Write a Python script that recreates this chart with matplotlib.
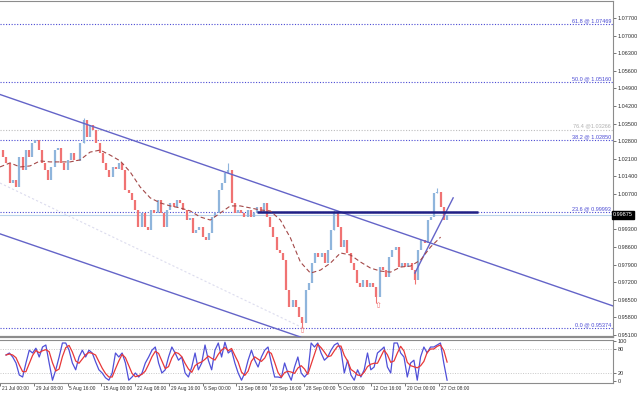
import numpy as np
import pandas as pd
import matplotlib
matplotlib.use('Agg')
import matplotlib.pyplot as plt
import matplotlib.transforms as mtransforms

plt.rcParams['font.family'] = ['Liberation Sans', 'DejaVu Sans']

# H4 closes (one value per bar)
closes = [
    1.0245, 1.0217, 1.0194, 1.0114, 1.0126, 1.0098, 1.0217, 1.0166, 1.0245, 1.0217,
    1.0273, 1.0285, 1.0245, 1.0194, 1.0166, 1.0126, 1.0178, 1.0245, 1.0253, 1.0194,
    1.0166, 1.0206, 1.0233, 1.0206, 1.0200, 1.0273, 1.0365, 1.0297, 1.0345, 1.0325,
    1.0273, 1.0233, 1.0194, 1.0166, 1.0138, 1.0178, 1.0170, 1.0194, 1.0166, 1.0086,
    1.0074, 1.0047, 1.0007, 0.9939, 0.9995, 0.9939, 0.9927, 1.0007, 0.9995, 1.0047,
    0.9995, 0.9939, 1.0007, 1.0035, 1.0019, 1.0047, 1.0035, 1.0007, 0.9967, 0.9975,
    0.9915, 0.9927, 0.9939, 0.9899, 0.9888, 0.9915, 0.9979, 0.9995, 1.0086, 1.0114,
    1.0154, 1.0166, 1.0035, 0.9995, 1.0007, 0.9995, 0.9979, 1.0007, 0.9979, 0.9995,
    1.0019, 0.9995, 1.0035, 0.9979, 0.9939, 0.9899, 0.9848, 0.9836, 0.9808, 0.9689,
    0.9621, 0.9649, 0.9621, 0.9581, 0.9558, 0.9689, 0.9717, 0.9796, 0.9836, 0.9820,
    0.9836, 0.9796, 0.9848, 0.9927, 0.9995, 0.9939, 0.9860, 0.9888, 0.9836, 0.9796,
    0.9768, 0.9717, 0.9701, 0.9729, 0.9701, 0.9717, 0.9701, 0.9661, 0.9780, 0.9768,
    0.9740, 0.9820, 0.9848, 0.9860, 0.9780, 0.9796, 0.9780, 0.9796, 0.9768, 0.9729,
    0.9848, 0.9888, 0.9876, 0.9967, 0.9979, 1.0074, 1.0078, 1.0019, 0.9967, 0.9987,
]
# a few visible wick extremes (bar, price)
wick_bars = [26, 71, 94, 104, 117, 129, 136]
wick_prices = [1.0373, 1.0194, 0.9538, 1.0007, 0.9637, 0.9713, 1.0094]

# dashed moving average, sampled along the chart
ma_vals = [
    1.0178, 1.0194, 1.0178, 1.0182, 1.0202, 1.0198, 1.0198, 1.0198, 1.0206, 1.0237,
    1.0245, 1.0225, 1.0202, 1.0158, 1.0098, 1.0055, 1.0035, 1.0023, 1.0015, 1.0003,
    0.9979, 0.9967, 0.9995, 1.0023, 1.0023, 1.0015, 1.0007, 1.0003, 0.9967, 0.9896,
    0.9800, 0.9756, 0.9768, 0.9796, 0.9836, 0.9828, 0.9800, 0.9776, 0.9764, 0.9760,
    0.9780, 0.9784, 0.9808, 0.9860, 0.9899,
]

# stochastic %K
stoch_k = [
    65, 70, 60, 45, 15, 10, 45, 77, 70, 82,
    60, 85, 90, 45, 2, 28, 60, 95, 95, 77,
    45, 28, 60, 77, 60, 77, 70, 48, 28, 20,
    8, 2, 20, 70, 60, 70, 45, 2, 10, 20,
    10, 20, 45, 60, 77, 85, 45, 20, 28, 60,
    85, 70, 52, 60, 20, 10, 35, 70, 28, 45,
    90, 52, 28, 77, 95, 60, 97, 70, 77, 45,
    20, 2, 20, 52, 77, 52, 35, 60, 77, 85,
    45, 10, 10, 8, 45, 20, 2, 35, 60, 20,
    10, 20, 95, 85, 95, 70,
    52, 60, 77, 90, 95, 77, 20, 52, 15, 2,
    28, 10, 28, 70, 28, 35, 70, 77, 85, 35,
    20, 95, 95, 70, 60, 10, 45, 52, 2, 60,
    85, 70, 85, 85, 90, 95, 45, 2,
]

fib_levels = [1.07469, 1.05160, 1.02850, 0.99993, 0.95374]
fib_names = ['61.8', '50.0', '38.2', '23.6', '0.0']
extra_level = 1.03266
extra_name = '76.4'
bid = 0.99875

# trendlines: (bar, price) anchors
upper_channel = [(0, 1.0466), (139, 0.9853)]
lower_channel = [(0, 0.9912), (139, 0.9302)]
faint_line = [(0, 1.0114), (94.2, 0.9538)]
rise_line = [(129, 0.9756), (140.9, 1.0055)]
hline_span = [79.9, 148.6]
arrow_bars = [94, 117.5]
arrow_prices = [0.9538, 0.9637]

date_labels = ['21 Jul 00:00', '29 Jul 08:00', '5 Aug 16:00', '15 Aug 00:00', '22 Aug 08:00',
               '29 Aug 16:00', '6 Sep 00:00', '13 Sep 08:00', '20 Sep 16:00', '28 Sep 00:00',
               '5 Oct 08:00', '12 Oct 16:00', '20 Oct 00:00', '27 Oct 08:00']

fib_col = '#4a4ad4'
chan_col = '#6464c8'
frame_col = '#8c8c8c'
up_col = '#8fb5dc'
dn_col = '#f07373'

fig = plt.figure(figsize=(6.39, 3.95), dpi=100)
ax = fig.add_axes([0, 1 - 337 / 395, 613 / 639, 336 / 395])
sax = fig.add_axes([0, 1 - 383 / 395, 613 / 639, 43 / 395])

n = len(closes)
x = np.arange(n)
c = np.array(closes)
o = np.r_[c[0], c[:-1]]
cols = [up_col if cc >= oo else dn_col for cc, oo in zip(c, o)]

xmax = 190.6
ax.set_xlim(0, xmax)
ax.set_ylim(0.95020, 1.08376)

# fib levels
for lvl, name in zip(fib_levels, fib_names):
    ax.axhline(lvl, color=fib_col, lw=0.8, dashes=(1, 1.5), zorder=1)
    ax.text(0.997, lvl + 0.0003, f'{name} @ {lvl:.5f}', transform=ax.get_yaxis_transform(),
            ha='right', va='bottom', fontsize=4, color=fib_col)
ax.axhline(extra_level, color='#bdbdbd', lw=0.8, dashes=(1, 1.5), zorder=1)
ax.text(0.997, extra_level + 0.0003, f'{extra_name} @{extra_level:.5f}',
        transform=ax.get_yaxis_transform(), ha='right', va='bottom', fontsize=4, color='#b0b0b0')

# bid line
ax.axhline(bid, color='#b9d3ea', lw=0.8, zorder=1)

# trendlines
ax.axline(upper_channel[0], upper_channel[1], color=chan_col, lw=1, zorder=3)
ax.axline(lower_channel[0], lower_channel[1], color=chan_col, lw=1, zorder=3)
fx, fy = zip(*faint_line)
ax.plot(fx, fy, color='#dcdcee', lw=0.8, dashes=(2, 2), zorder=1)
rx, ry = zip(*rise_line)
ax.plot(rx, ry, color=chan_col, lw=1, zorder=3)
ax.hlines(fib_levels[3], hline_span[0], hline_span[1], color='#1f1f85', lw=1.8, zorder=3)

# bars
for b, p in zip(wick_bars, wick_prices):
    ax.vlines(b, min(p, o[b], c[b]), max(p, o[b], c[b]), color=cols[b], lw=0.8, zorder=2)
ax.vlines(x, np.minimum(o, c), np.maximum(o, c), colors=cols, lw=1.6, zorder=2)

# moving average
ma_x = np.linspace(0, n - 3, len(ma_vals))
ax.plot(ma_x, ma_vals, color='#a34848', lw=0.8, dashes=(4, 2.5), zorder=4)

# arrows
for b, p in zip(arrow_bars, arrow_prices):
    ax.text(b, p, '\u21e7', ha='center', va='top', fontsize=6, color='#f07373', zorder=5)

# right price scale (the 1.00000 label sits under the bid box)
ticks = np.round(np.arange(0.951, 1.0775, 0.007), 3)
ax.yaxis.tick_right()
ax.set_yticks(ticks)
ax.set_yticklabels(['' if abs(t - 1.0) < 1e-9 else f'{t:.5f}' for t in ticks])
ax.tick_params(axis='y', length=2, width=0.6, color='#606060', labelsize=4,
               labelcolor='#303030', pad=1.5)
ax.set_xticks([])
ax.text(1.0, bid, f'{bid:.5f}', transform=ax.get_yaxis_transform(), ha='left', va='center',
        fontsize=4, color='white', zorder=6,
        bbox=dict(boxstyle='square,pad=0.25', fc='black', ec='black'))

for side in ['top', 'right', 'bottom']:
    ax.spines[side].set_color(frame_col)
ax.spines['left'].set_visible(False)
ax.spines['bottom'].set_linewidth(1.6)

# stochastic
sx = np.linspace(0, n - 1.5, len(stoch_k))
stoch_d = pd.Series(stoch_k).rolling(3, min_periods=1).mean()
sax.set_xlim(0, xmax)
sax.set_ylim(-5, 102.5)
for lvl in [80, 20]:
    sax.axhline(lvl, color='#c8c8c8', lw=0.7, dashes=(1, 1.5))
sax.plot(sx, stoch_k, color='#5050d8', lw=0.9)
sax.plot(sx, stoch_d, color='#e83838', lw=0.9)
sax.yaxis.tick_right()
sax.set_yticks([0, 20, 80, 100])
sax.set_yticklabels(['0', '20', '80', '100'])
sax.tick_params(axis='y', length=2, width=0.6, color='#606060', labelsize=4,
                labelcolor='#303030', pad=1.5)
for side in ['top', 'right', 'bottom']:
    sax.spines[side].set_color(frame_col)
sax.spines['left'].set_visible(False)

tick_pos = np.arange(len(date_labels)) * 10.6 - 1.9
sax.set_xticks(tick_pos)
sax.set_xticklabels([])
sax.tick_params(axis='x', length=2, width=0.6, color='#606060')
blend = mtransforms.blended_transform_factory(sax.transData, sax.transAxes)
for tp, lab in zip(tick_pos, date_labels):
    sax.text(tp + 0.6, -0.07, lab, transform=blend, ha='left', va='top',
             fontsize=3.5, color='#303030', clip_on=False)

fig.savefig('out.png', dpi=100)
